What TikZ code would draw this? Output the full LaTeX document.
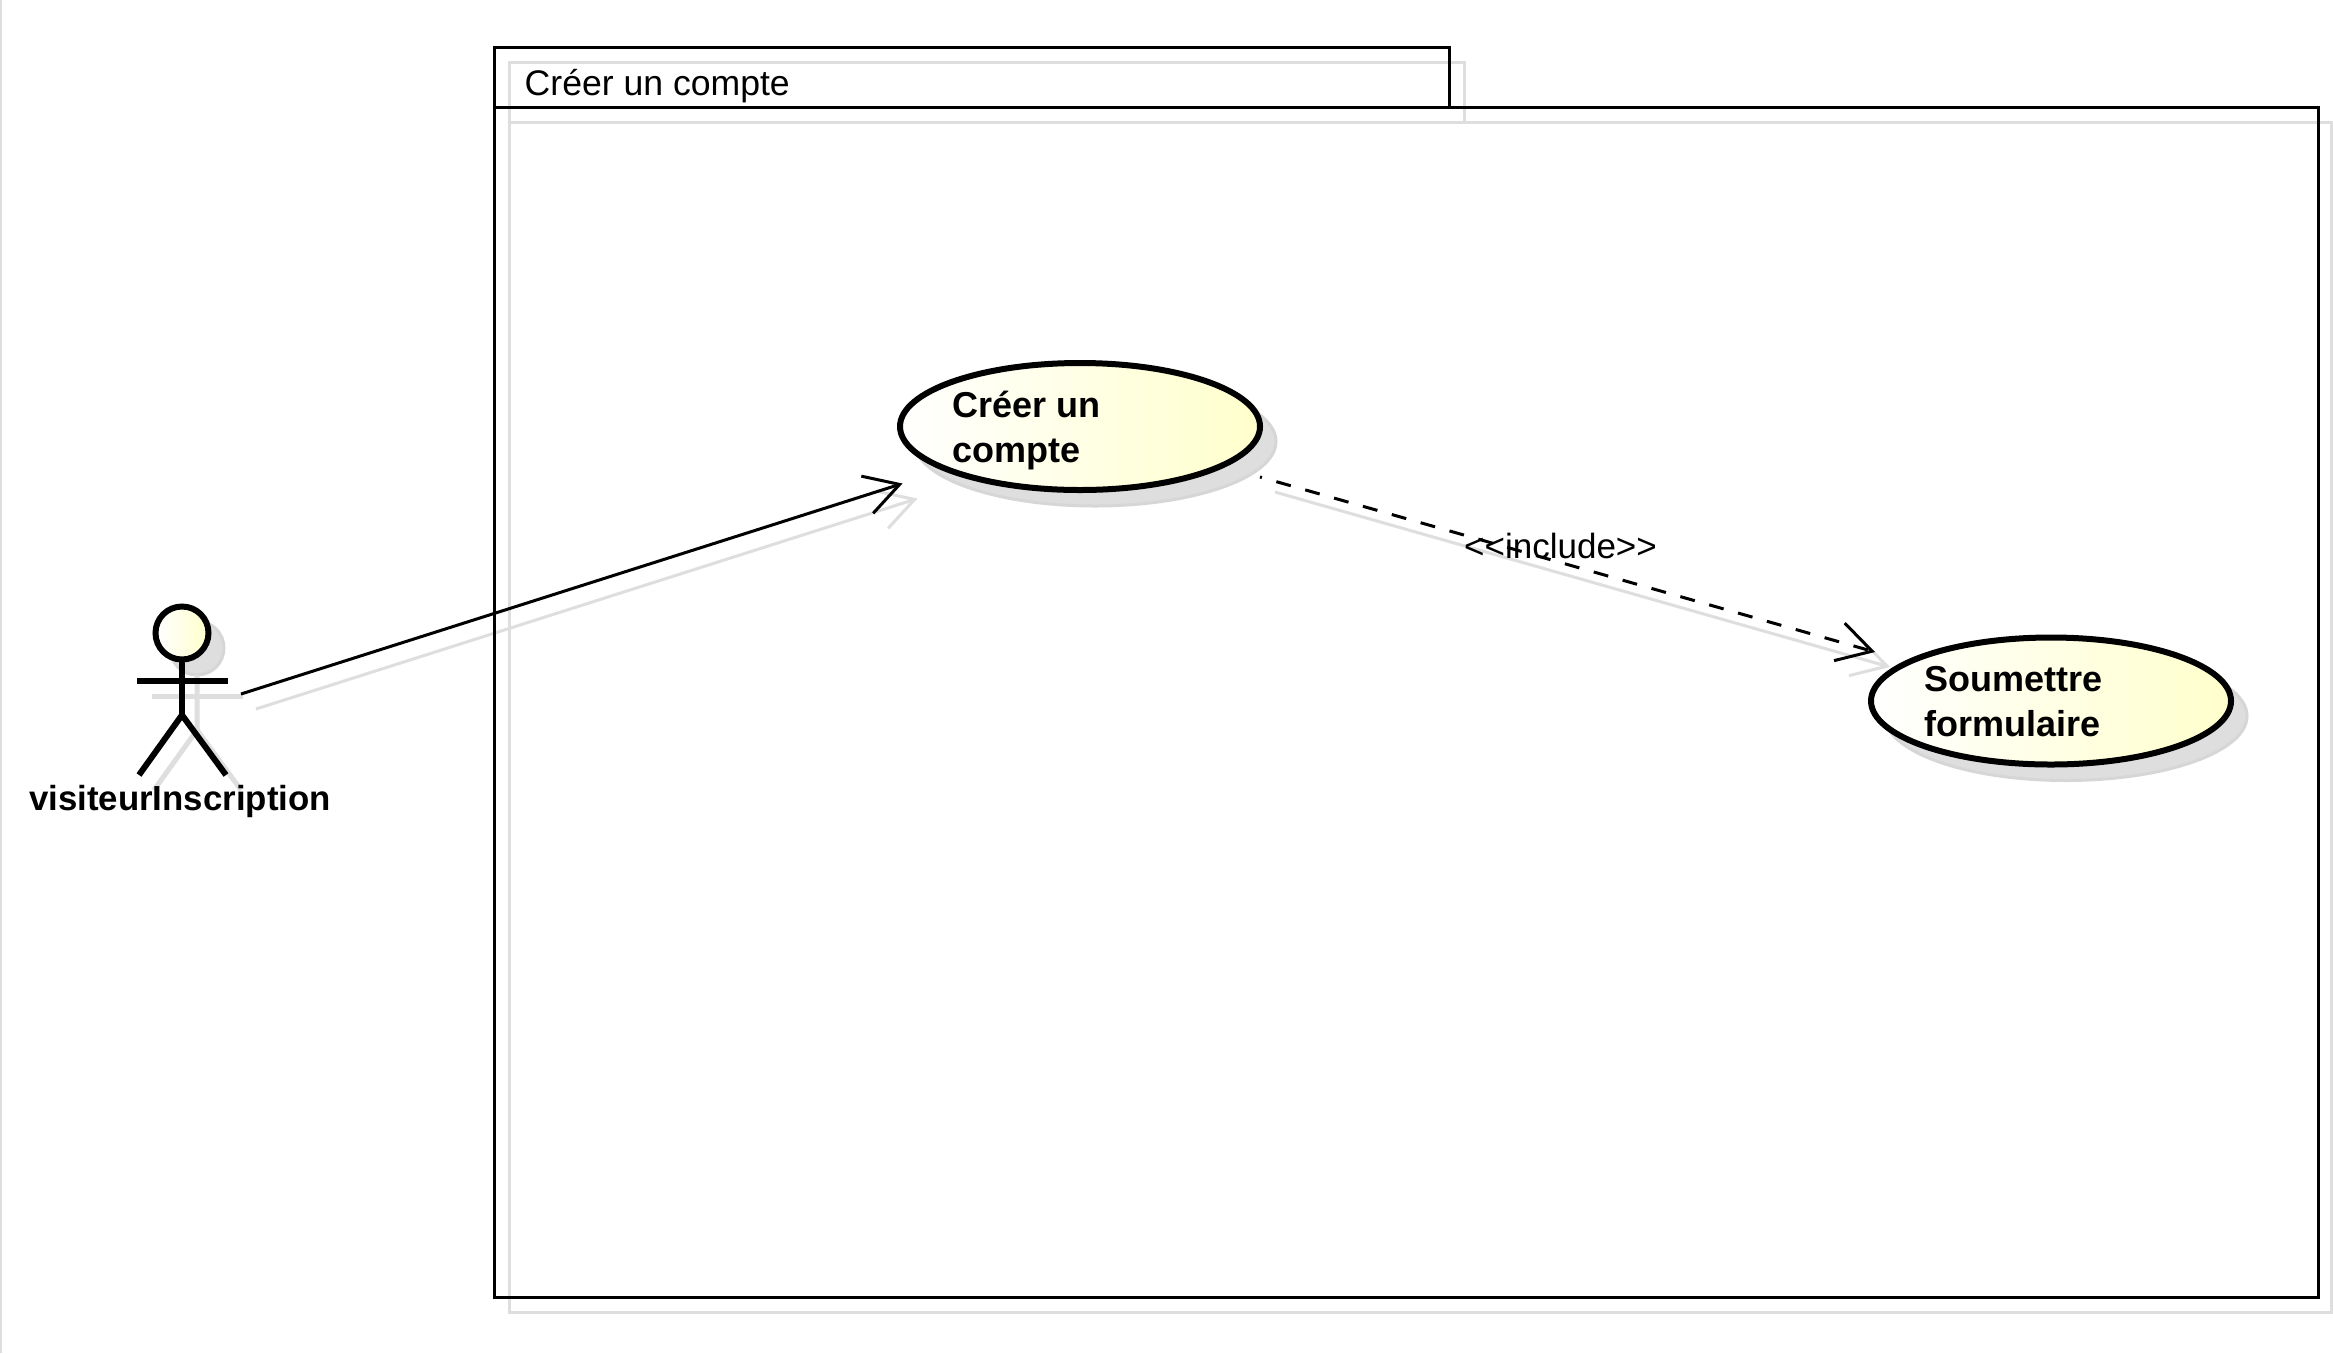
\documentclass[tikz,border=0pt]{standalone}
\usepackage{fontspec}
\setmainfont{Liberation Sans}
\usetikzlibrary{shapes.geometric,arrows.meta}
\definecolor{shadowgray}{HTML}{DEDEDE}
\definecolor{shadowedge}{HTML}{D6D6D6}
\definecolor{usecaseyellow}{HTML}{FFFFCC}
\tikzset{
	usecase/.style  = {draw, ellipse, line width=6pt, outer sep=0pt, inner sep=0pt,
		left color=white, right color=usecaseyellow,
		minimum width=360pt,
		minimum height=127pt},
	usecaseShadow/.style = {draw=shadowedge, fill=shadowgray, ellipse, line width=3pt, outer sep=0pt, inner sep=0pt,
		minimum width=362pt,
		minimum height=129pt},
	head/.style     = {draw, circle, line width=6pt, outer sep=0pt, inner sep=0pt,
		left color=white, right color=usecaseyellow,
		minimum size=53pt},
	headShadow/.style = {draw=shadowedge, fill=shadowgray, circle, line width=3pt, outer sep=0pt, inner sep=0pt,
		minimum size=54pt},
	frame/.style    = {draw, line width=3pt, anchor=north west, outer sep=0pt, inner sep=0pt},
	frameShadow/.style = {frame, line width=3pt, draw=shadowgray},
	caseText/.style = {anchor=base west, inner sep=0pt, align=left,
		font=\fontsize{36}{44.5}\selectfont\bfseries},
	nameText/.style = {anchor=base west, inner sep=0pt,
		font=\fontsize{34.8}{42}\selectfont\bfseries},
	plainText/.style = {anchor=base west, inner sep=0pt,
		font=\fontsize{35.6}{42}\selectfont},
	labelText/.style = {anchor=base west, inner sep=0pt,
		font=\fontsize{35}{42}\selectfont},
	limb/.style     = {line width=6pt},
	limbShadow/.style = {line width=5pt, draw=shadowgray},
	link/.style     = {line width=3pt},
	linkShadow/.style = {line width=3pt, draw=shadowgray},
	openArrow/.style = {-{Straight Barb[length=34pt,width=39pt]}},
	includeDash/.style = {dash pattern=on 15pt off 15pt, dash phase=13pt},
}

\begin{document}
\begin{tikzpicture}[ x=1pt, y=-1pt ]                %<--one unit is one pixel of the reference

	\useasboundingbox (0,0) rectangle (2333,1353);
	\fill[white] (0,0) rectangle (2333,1353);

	\draw%-----------------------------------------------------------------------------------------
	%Drawing the Page Edge:
	node[shape=coordinate][](edgeTop) at (1,0){}
	node[shape=coordinate][](edgeBottom) at (1,1353){}
	%Drawing the Shadows:
	node(bodyShadow) at (509,122) [frameShadow, minimum width=1822pt, minimum height=1190pt] {}
	node(tabShadow) at (509,62) [frameShadow, minimum width=955pt, minimum height=60pt] {}
	node(headS) at (197,648) [headShadow] {}
	node(createS) at (1095,441.5) [usecaseShadow] {}
	node(submitS) at (2066,716) [usecaseShadow] {}
	;%---------------------------------------------------------------------------------------------

	\draw[line width=2pt, draw=shadowgray] (edgeTop) -- (edgeBottom);

	%Shadow of the Actor and Links
	\draw[limbShadow] (headS.south) -- (197,730) -- (154,790);
	\draw[limbShadow] (197,730) -- (241,790);
	\draw[limbShadow] (152,696) -- (243,696);
	\draw[linkShadow, openArrow] (256,709) -- (917.5,498.5);
	\draw[linkShadow, openArrow] (1275,492) -- (1890,667);

	\draw%-----------------------------------------------------------------------------------------
	%Drawing the Frame:
	node(body) at (494,107) [frame, minimum width=1824pt, minimum height=1190pt] {}
	node(tab) at (494,47) [frame, minimum width=955pt, minimum height=60pt] {}
	node(tabTitle) at (524.5,95) [plainText] {Créer un compte}
	%Drawing the Use Cases:
	node(create) at (1080,426.5) [usecase] {}
	node(createText) at (952.5,462) [caseText] {Créer un\\compte}
	node(submit) at (2051,701) [usecase] {}
	node(submitText) at (1924.5,736) [caseText] {Soumettre\\formulaire}
	%Drawing the Actor:
	node(actorHead) at (182,633) [head] {}
	node[shape=coordinate][](armLeft) at (137,681){}
	node[shape=coordinate][](armRight) at (228,681){}
	node[shape=coordinate][](hip) at (182,715){}
	node[shape=coordinate][](footLeft) at (139,775){}
	node[shape=coordinate][](footRight) at (226,775){}
	node(actorName) at (29,810) [nameText] {visiteurInscription}
	%Drawing the Link Ends:
	node[shape=coordinate][](actorOut) at (241,694){}
	node[shape=coordinate][](createIn) at (902.5,483.5){}
	node[shape=coordinate][](createOut) at (1260,477){}
	node[shape=coordinate][](submitIn) at (1875,652){}
	%Drawing the Link Label:
	node(includeLabel) at (1464,558) [labelText] {<{}<include>{}>}
	;%---------------------------------------------------------------------------------------------

	%Joining the Actor
	\draw[limb] (actorHead.south) -- (hip);
	\draw[limb] (armLeft) -- (armRight);
	\draw[limb] (footLeft) -- (hip) -- (footRight);

	%Joining the Use Cases
	\draw[link, openArrow] (actorOut) -- (createIn);
	\draw[link, includeDash, openArrow] (createOut) -- (submitIn);

\end{tikzpicture}
\end{document}
